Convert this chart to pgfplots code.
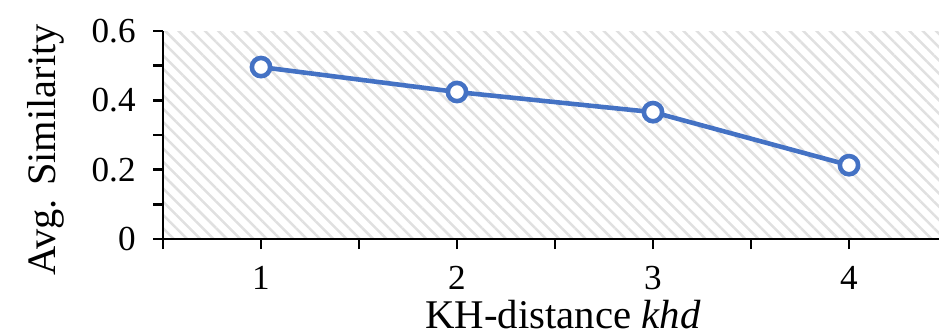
\documentclass[border=0pt]{standalone}
\usepackage{fontspec}
\setmainfont{Liberation Serif}
\usepackage{pgfplots}
\pgfplotsset{compat=1.18}
\usetikzlibrary{patterns.meta}
\definecolor{lineblue}{HTML}{4472C4}
\begin{document}
\begin{tikzpicture}
\begin{axis}[
  scale only axis,
  width=7.84cm, height=2.08cm,
  xmin=0.5, xmax=4.5, ymin=0, ymax=0.6,
  axis x line=bottom, axis y line=left,
  axis line style={-, line width=0.8pt, black},
  xtick={1,2,3,4},
  minor xtick={0.5,1.5,2.5,3.5,4.5},
  ytick={0,0.2,0.4,0.6},
  minor ytick={0.1,0.3,0.5},
  yticklabels={0,0.2,0.4,0.6},
  tick align=outside,
  major tick length=0.1cm, minor tick length=0.1cm,
  tick style={line width=0.8pt, black},
  /pgf/number format/assume math mode=true,
  ticklabel style={font=\fontsize{10}{12}\selectfont},
  xticklabel style={yshift=-0.05cm},
  yticklabel style={xshift=-0.05cm},
  axis background/.style={pattern={Lines[angle=-45,distance=0.094cm,line width=0.025cm]}, pattern color=black!12},
  clip=false,
]
\addplot[color=lineblue, line width=1.3pt, mark=*, mark size=2.6pt,
  mark options={fill=white, draw=lineblue, line width=1.3pt}]
  coordinates {(1,0.496) (2,0.424) (3,0.366) (4,0.213)};
\end{axis}
\node[rotate=90, font=\fontsize{11.5}{13}\selectfont] at (-1.17cm,0.89cm) {Avg. Similarity};
\node[anchor=base, font=\fontsize{11.6}{13}\selectfont] at (4.00cm,-0.89cm) {KH-distance \textit{khd}};
\pgfresetboundingbox
\useasboundingbox (-1.63cm,-0.92cm) rectangle (7.76cm,2.39cm);
\end{tikzpicture}
\end{document}
